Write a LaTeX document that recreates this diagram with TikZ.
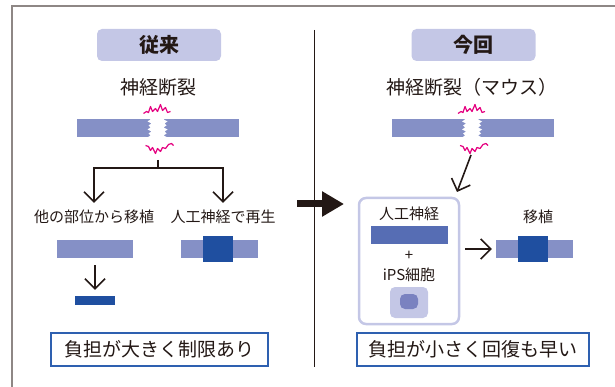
\documentclass[tikz,border=0pt]{standalone}
\usepackage{fontspec}
\setmainfont{Noto Sans CJK JP}
\usetikzlibrary{positioning,arrows.meta}

\definecolor{ink}{HTML}{231815}
\definecolor{lav}{HTML}{C4C7E6}
\definecolor{nervebl}{HTML}{8590C6}
\definecolor{darkbl}{HTML}{1F4FA0}
\definecolor{synbl}{HTML}{566DB4}
\definecolor{nucleus}{HTML}{7A82C0}
\definecolor{boxbl}{HTML}{2E60B0}
\definecolor{crackpink}{HTML}{E4007F}
\definecolor{framegray}{HTML}{8E8785}

\tikzset{
  titlebox/.style={fill=lav, rounded corners=5pt, minimum width=124pt, minimum height=32pt,
    font=\fontsize{20}{20}\selectfont\bfseries, text=ink},
  biglabel/.style={font=\fontsize{19}{19}\selectfont, text=ink},
  smalllabel/.style={font=\fontsize{15}{15}\selectfont, text=ink, inner sep=6pt},
  nerve/.style={fill=nervebl, minimum height=18pt, inner sep=0pt},
  implant/.style={fill=darkbl, inner sep=0pt},
  resultbox/.style={draw=boxbl, line width=1.2pt, fill=white, minimum height=33pt,
    inner sep=0pt, font=\fontsize{19}{19}\selectfont, text=ink},
  barb/.style={-{Straight Barb[length=10pt,width=20pt]}, line width=1.6pt, draw=ink},
  crack/.style={draw=crackpink, line width=1.2pt, line join=round},
}

% broken nerve: white gap and pink cracks around the cut
\newcommand{\nervecut}[1]{
  \begin{scope}[shift={(#1)}]
    \fill[white] (-9,-11) -- (-7,-9) -- (-10,-7) -- (-6,-5) -- (-9,-3) -- (-7,-1)
      -- (-10,1) -- (-6,3) -- (-9,5) -- (-7,7) -- (-10,9) -- (-8,11)
      -- (8,11) -- (10,9) -- (6,7) -- (9,5) -- (7,3) -- (10,1) -- (6,-1)
      -- (9,-3) -- (7,-5) -- (10,-7) -- (6,-9) -- (8,-11) -- cycle;
    \draw[crack] (-14,-15) -- (-11,-17) -- (-9,-16) -- (-7,-22) -- (-5,-17) -- (-2,-20)
      -- (0,-17) -- (3,-24) -- (5,-18) -- (8,-21) -- (10,-16) -- (13,-17);
    \draw[crack] (-12,17) -- (-9,18) -- (-7,22) -- (-5,19) -- (-2,25) -- (0,20)
      -- (3,23) -- (5,19) -- (8,20) -- (11,16) -- (14,15) -- (16,17);
  \end{scope}
}

\begin{document}
\begin{tikzpicture}[x=1pt, y=-1pt]
\useasboundingbox (0,0) rectangle (615,387);

%% 枠
\draw[framegray, line width=2pt] (615,6) -- (12,6) -- (12,387);
\draw[ink, line width=1pt] (314,30) -- (314,367);

%%% 従来
\node[titlebox] (old) at (159,45) {従来};
\node[biglabel] (oldcut) at (158,87) {神経断裂};
\node[nerve, minimum width=162pt] (oldnerve) at (158,128.5) {};
\nervecut{157.5,128.5}

% 枝分かれ
\coordinate (forktop) at (158,160);
\coordinate (fork) at (158,168);
\node[smalllabel] (graft) at (94,217) {他の部位から移植};
\node[smalllabel] (regen) at (223,217) {人工神経で再生};
\draw[ink, line width=1.6pt] (forktop) -- (fork);
\draw[barb, shorten >=1pt] (fork) -| (graft.north);
\draw[barb, shorten >=1pt] (fork) -| (regen.north);

\node[nerve, minimum width=76pt] (graftbar) at (95,249) {};
\node[implant, minimum width=40pt, minimum height=9pt] (stump) at (95,300.5) {};
\draw[barb, shorten <=7pt, shorten >=6pt] (graftbar.south) -- (stump.north);

\node[nerve, minimum width=77pt] (regenbar) at (219.5,249) {};
\node[implant, minimum width=30pt, minimum height=26pt] (regenplug) at (218,249) {};

\node[resultbox, minimum width=217pt] (oldres) at (159.5,349.5) {負担が大きく制限あり};

%%% 今回
\node[titlebox] (new) at (473.5,45) {今回};
\node[biglabel] (newcut) at (472,87) {神経断裂（マウス）};
\node[nerve, minimum width=162pt] (newnerve) at (473,128.5) {};
\nervecut{472,128.5}

\draw[ink, line width=7pt, -{Triangle[length=22pt,width=24pt]}] (297,204) -- (344,204);

% 人工神経 + iPS細胞
\node[draw=lav, line width=2.5pt, rounded corners=7pt, minimum width=100pt, minimum height=126pt]
  (ipsbox) at (409,261) {};
\node[smalllabel] (synname) at (409,214) {人工神経};
\node[fill=synbl, minimum width=77pt, minimum height=18pt, inner sep=0pt] (synbar) at (409.5,235) {};
\node[smalllabel] (plus) at (409,256) {+};
\node[smalllabel] (ipsname) at (409,275) {iPS細胞};
\node[fill=lav, rounded corners=5pt, minimum width=38pt, minimum height=31pt, inner sep=0pt] (cell) at (409,302.5) {};
\node[fill=nucleus, rounded corners=5pt, minimum width=18pt, minimum height=15pt, inner sep=0pt] (core) at (409,301.5) {};

\coordinate (cutbelow) at (471,155);
\coordinate (drop) at (457,192);
\draw[barb] (cutbelow) -- (drop);

\node[smalllabel] (transp) at (538,217) {移植};
\node[nerve, minimum width=77pt] (newbar) at (534.5,249) {};
\node[implant, minimum width=30pt, minimum height=26pt] (newplug) at (533,249) {};
\draw[barb, shorten <=5pt, shorten >=4pt] (ipsbox.east |- newbar.west) -- (newbar.west);

\node[resultbox, minimum width=232pt] (newres) at (473,349.5) {負担が小さく回復も早い};

\end{tikzpicture}
\end{document}
